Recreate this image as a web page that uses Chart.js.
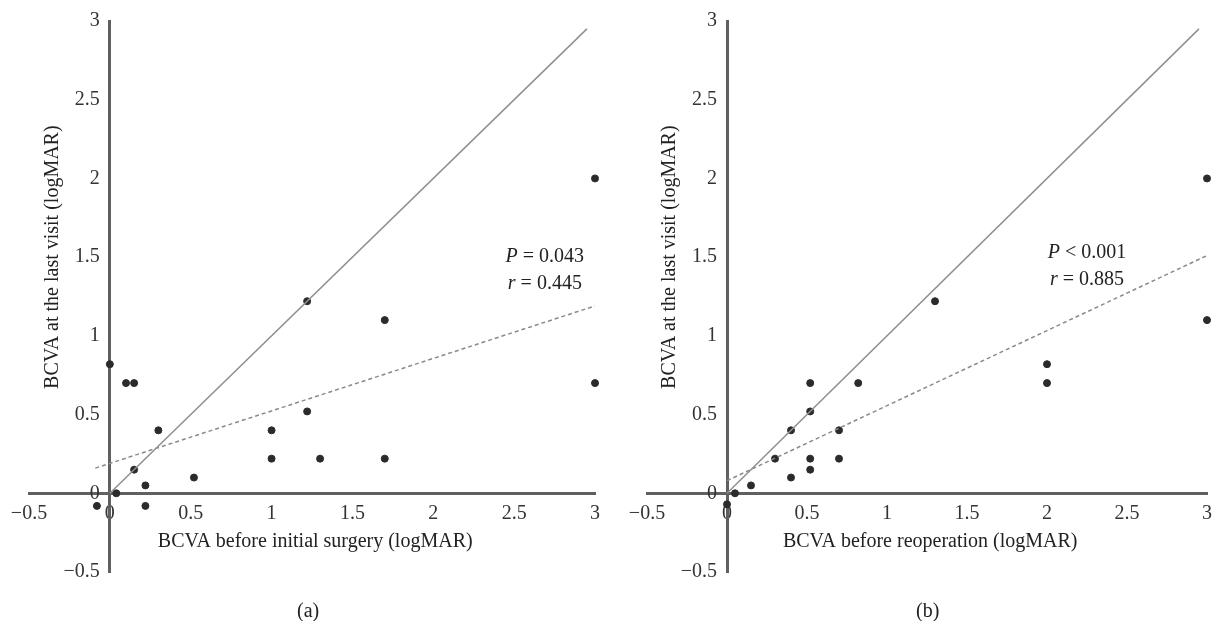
<!DOCTYPE html>
<html>
<head>
<meta charset="utf-8">
<script src="https://cdn.jsdelivr.net/npm/chart.js@4"></script>
<style>
  body { margin: 0; background: #fff; }
  .panel { position: absolute; top: 0; height: 621px; }
  .caption { position: absolute; top: 599px; font: 20px "Liberation Serif", serif; color: #222; }
</style>
</head>
<body>
<div class="panel" style="left:0;width:610px"><canvas id="chartA"></canvas></div>
<div class="panel" style="left:618px;width:602px"><canvas id="chartB"></canvas></div>
<div class="caption" style="left:297px">(a)</div>
<div class="caption" style="left:916px">(b)</div>
<script>
// tick values used on both axes
const tickValues = [-0.5, 0, 0.5, 1, 1.5, 2, 2.5, 3];

// (a) BCVA before initial surgery vs last visit
const initialX = [0, 0.1, 0.15, 0.3, 0.15, 0.22, 0.04, -0.08, 0.22, 0.52, 1, 1, 1.22, 1.22, 1.3, 1.7, 1.7, 3, 3];
const initialY = [0.82, 0.7, 0.7, 0.4, 0.15, 0.05, 0, -0.08, -0.08, 0.1, 0.4, 0.22, 0.52, 1.22, 0.22, 1.1, 0.22, 0.7, 2];

// (b) BCVA before reoperation vs last visit
const reopX = [0, 0.05, 0.15, 0.3, 0.4, 0.4, 0.52, 0.52, 0.52, 0.52, 0.7, 0.7, 0.82, 1.3, 2, 2, 3, 3];
const reopY = [-0.07, 0, 0.05, 0.22, 0.1, 0.4, 0.15, 0.22, 0.52, 0.7, 0.22, 0.4, 0.7, 1.22, 0.7, 0.82, 1.1, 2];

// reference line y = x and the fitted trend lines
const identityX = [0, 2.95];
const identityY = [0, 2.95];
const trendAX = [-0.09, 3];
const trendAY = [0.16, 1.19];
const trendBX = [0, 3];
const trendBY = [0.08, 1.51];

const pTexts = ['= 0.043', '< 0.001'];
const rTexts = ['= 0.445', '= 0.885'];

const serif = '"Liberation Serif", "Times New Roman", serif';

function toPoints(xs, ys) {
  return xs.map((v, i) => ({ x: v, y: ys[i] }));
}

function fmt(v) {
  return String(v).replace('-', '\u2212');
}

// axis titles and the P / r labels
const textPlugin = {
  id: 'texts',
  afterDraw(chart, args, opts) {
    const ctx = chart.ctx;
    const x = chart.scales.x, y = chart.scales.y;
    ctx.save();
    ctx.fillStyle = '#222';
    ctx.font = '20px ' + serif;
    ctx.textBaseline = 'alphabetic';
    ctx.textAlign = 'center';
    ctx.fillText(opts.xTitle, x.getPixelForValue(1.27), y.getPixelForValue(0) + 54);

    // stats, italic letter + the rest
    const lines = [['P', opts.p, opts.statY[0]], ['r', opts.r, opts.statY[1]]];
    ctx.textBaseline = 'middle';
    ctx.textAlign = 'left';
    lines.forEach(l => {
      ctx.font = 'italic 20px ' + serif;
      const w1 = ctx.measureText(l[0] + ' ').width;
      ctx.font = '20px ' + serif;
      const w2 = ctx.measureText(l[1]).width;
      let px = x.getPixelForValue(opts.statX) - (w1 + w2) / 2;
      const py = y.getPixelForValue(l[2]);
      ctx.font = 'italic 20px ' + serif;
      ctx.fillText(l[0], px, py);
      ctx.font = '20px ' + serif;
      ctx.fillText(l[1], px + w1, py);
    });

    ctx.textBaseline = 'alphabetic';
    ctx.textAlign = 'center';
    ctx.translate(x.getPixelForValue(0) - 52, y.getPixelForValue(1.5));
    ctx.rotate(-Math.PI / 2);
    ctx.fillText('BCVA at the last visit (logMAR)', 0, 0);
    ctx.restore();
  }
};

function axis(pos, vertical) {
  return {
    type: 'linear',
    position: pos,
    min: -0.5,
    max: 3,
    afterBuildTicks: s => { s.ticks = tickValues.map(v => ({ value: v })); },
    afterFit: s => { if (s.isHorizontal()) s.height = 0; else s.width = 0; },
    grid: { display: false, drawTicks: false },
    border: { display: true, color: '#606060', width: 3 },
    ticks: {
      autoSkip: false,
      maxRotation: 0,
      color: '#333',
      padding: 8,
      font: { family: serif, size: 20 },
      // keep the y labels clear of the axis line
      callback: v => vertical ? fmt(v) + '  ' : fmt(v)
    }
  };
}

function makeChart(id, xs, ys, tx, ty, idx, rightPad, xTitle, statX, statY) {
  new Chart(document.getElementById(id), {
    type: 'scatter',
    data: {
      datasets: [{
        data: toPoints(identityX, identityY),
        showLine: true,
        borderColor: '#8f8f8f',
        borderWidth: 1.5,
        pointRadius: 0
      }, {
        data: toPoints(tx, ty),
        showLine: true,
        borderColor: '#8a8a8a',
        borderWidth: 1.5,
        borderDash: [4, 3],
        pointRadius: 0
      }, {
        data: toPoints(xs, ys),
        backgroundColor: '#2b2b2b',
        borderColor: '#2b2b2b',
        pointRadius: 3.5,
        clip: false
      }]
    },
    options: {
      responsive: true,
      maintainAspectRatio: false,
      animation: false,
      layout: { padding: { left: 29, right: rightPad, top: 21, bottom: 49 } },
      plugins: {
        legend: { display: false },
        tooltip: { enabled: false },
        texts: { xTitle: xTitle, p: pTexts[idx], r: rTexts[idx], statX: statX, statY: statY }
      },
      scales: {
        x: axis({ y: 0 }, false),
        y: axis({ x: 0 }, true)
      }
    },
    plugins: [textPlugin]
  });
}

makeChart('chartA', initialX, initialY, trendAX, trendAY, 0, 15,
  'BCVA before initial surgery (logMAR)', 2.69, [1.5, 1.33]);
makeChart('chartB', reopX, reopY, trendBX, trendBY, 1, 7,
  'BCVA before reoperation (logMAR)', 2.25, [1.53, 1.355]);
</script>
</body>
</html>
